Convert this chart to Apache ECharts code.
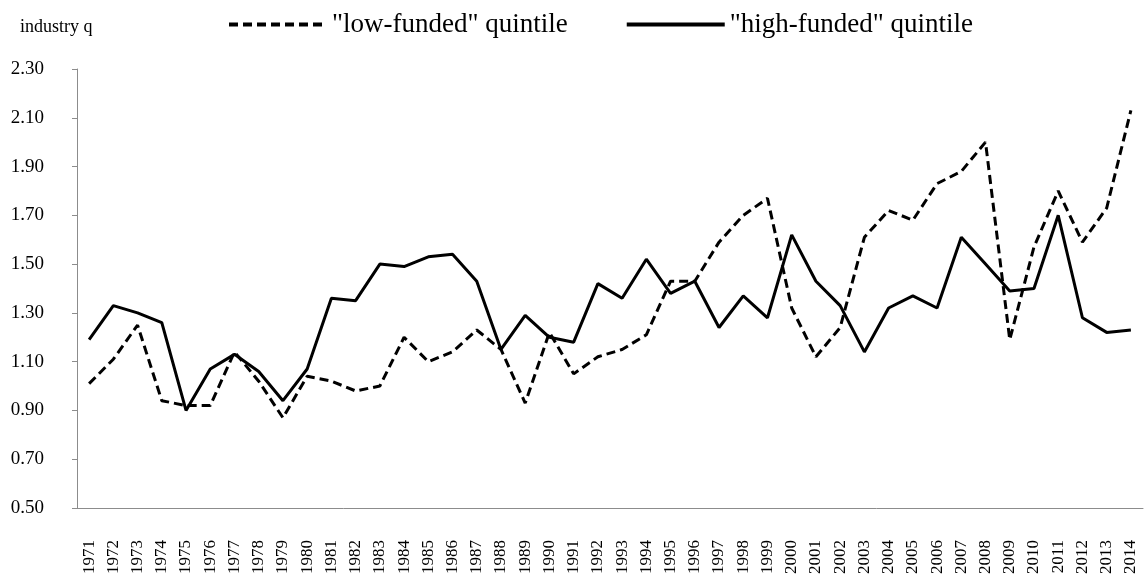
<!DOCTYPE html>
<html>
<head>
<meta charset="utf-8">
<script src="https://cdn.jsdelivr.net/npm/echarts@6/dist/echarts.min.js"></script>
<style>
  html, body { margin: 0; padding: 0; background: #fff; }
  #chart { width: 1146px; height: 579px; }
</style>
</head>
<body>
<div id="chart"></div>
<script>
// years on the x axis
const years = []
for (let y = 1971; y <= 2014; y++) years.push(String(y))

// industry q
const lowFunded = [
  1.01, 1.11, 1.25, 0.94, 0.92, 0.92, 1.14, 1.02, 0.87, 1.04,
  1.02, 0.98, 1.00, 1.20, 1.10, 1.14, 1.23, 1.15, 0.93, 1.22,
  1.05, 1.12, 1.15, 1.21, 1.43, 1.43, 1.59, 1.70, 1.77, 1.32,
  1.12, 1.24, 1.61, 1.72, 1.68, 1.83, 1.88, 2.00, 1.19, 1.57,
  1.80, 1.59, 1.73, 2.13
]
const highFunded = [
  1.19, 1.33, 1.30, 1.26, 0.90, 1.07, 1.13, 1.06, 0.94, 1.07,
  1.36, 1.35, 1.50, 1.49, 1.53, 1.54, 1.43, 1.15, 1.29, 1.20,
  1.18, 1.42, 1.36, 1.52, 1.38, 1.43, 1.24, 1.37, 1.28, 1.62,
  1.43, 1.33, 1.14, 1.32, 1.37, 1.32, 1.61, 1.50, 1.39, 1.40,
  1.70, 1.28, 1.22, 1.23
]

const serif = '"Liberation Serif", "DejaVu Serif", serif'
const axisGray = '#8c8c8c'

const chart = echarts.init(document.getElementById('chart'))

chart.setOption({
  animation: false,
  backgroundColor: '#fff',
  title: {
    text: 'industry q',
    left: 15,
    top: 13,
    textStyle: { fontFamily: serif, fontSize: 18, fontWeight: 'normal', color: '#000' }
  },
  legend: {
    left: 222,
    top: 6,
    itemWidth: 98,
    itemHeight: 14,
    itemGap: 57,
    itemStyle: { opacity: 0 },
    lineStyle: { width: 4 },
    textStyle: { fontFamily: serif, fontSize: 27, color: '#000' },
    data: ['"low-funded" quintile', '"high-funded" quintile']
  },
  grid: {
    left: 77,
    right: 3,
    top: 69,
    bottom: 71
  },
  xAxis: {
    type: 'category',
    data: years,
    boundaryGap: true,
    axisLine: { lineStyle: { color: axisGray, width: 1 } },
    axisTick: { alignWithLabel: false, length: 5, lineStyle: { color: axisGray } },
    axisLabel: {
      rotate: 90,
      interval: 0,
      margin: 32,
      fontFamily: serif,
      fontSize: 17,
      color: '#000'
    },
    splitLine: { show: false }
  },
  yAxis: {
    type: 'value',
    min: 0.5,
    max: 2.3,
    interval: 0.2,
    axisLine: { show: true, lineStyle: { color: axisGray, width: 1 } },
    axisTick: { show: true, length: 5, lineStyle: { color: axisGray } },
    axisLabel: {
      margin: 33,
      fontFamily: serif,
      fontSize: 19,
      color: '#000',
      formatter: v => v.toFixed(2)
    },
    splitLine: { show: false }
  },
  series: [
    {
      name: '"low-funded" quintile',
      type: 'line',
      data: lowFunded,
      symbol: 'none',
      lineStyle: { color: '#000', width: 3, type: [9, 5] },
      itemStyle: { color: '#000' }
    },
    {
      name: '"high-funded" quintile',
      type: 'line',
      data: highFunded,
      symbol: 'none',
      lineStyle: { color: '#000', width: 3 },
      itemStyle: { color: '#000' }
    }
  ]
})
</script>
</body>
</html>
